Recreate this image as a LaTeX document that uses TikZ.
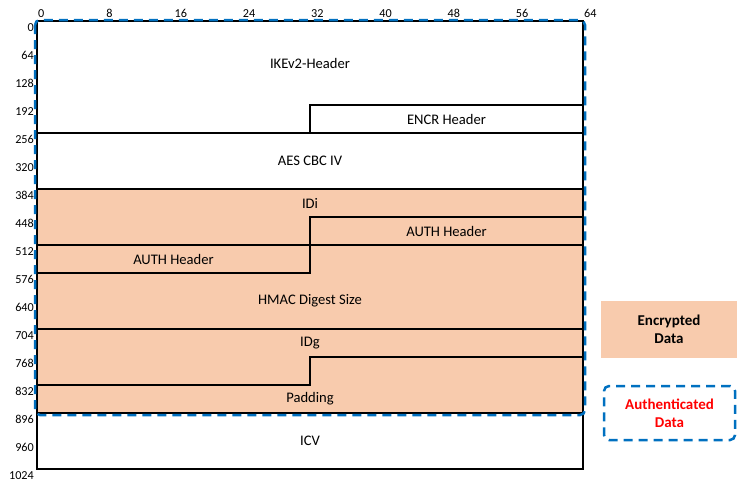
\documentclass[tikz,border=0pt]{standalone}
\usepackage{fontspec}
\setmainfont{Carlito}
\usetikzlibrary{positioning}
\definecolor{encfill}{RGB}{248,203,173}
\definecolor{authblue}{RGB}{0,112,192}
\definecolor{authred}{RGB}{255,0,0}

\begin{document}
\begin{tikzpicture}[x=8.53125pt, y=-0.4375pt,
  field/.style={draw=black, line width=1.4pt, line join=miter},
  enc/.style={field, fill=encfill},
  lbl/.style={font=\fontsize{14.6}{16}\selectfont, inner sep=0pt},
  bitnum/.style={font=\fontsize{12.2}{13}\selectfont, inner sep=0pt, anchor=south west},
  rownum/.style={font=\fontsize{12.2}{13}\selectfont, inner sep=0pt, anchor=east},
  authline/.style={draw=authblue, line width=2.5pt, dash pattern=on 9pt off 6pt, rounded corners=5pt}]
\useasboundingbox (-4.337,-48) rectangle (82.05,1053.71);

% Bit ruler (top) and offsets (left)
\foreach \b in {0,8,...,64}
  \node[bitnum] (bit\b) at ([xshift=1pt,yshift=3pt]\b,0) {\b};
\foreach \r in {0,64,...,1024}
  \node[rownum] (row\r) at ([xshift=-3pt,yshift=-6.8pt]0,\r) {\r};

% Plain fields
\draw[field] (0,0) -- (64,0) -- (64,192) -- (32,192) -- (32,256) -- (0,256) -- cycle;
\draw[field] (32,192) rectangle (64,256);
\draw[field] (0,256) rectangle (64,384);

% Encrypted fields
\draw[enc] (0,384) -- (64,384) -- (64,448) -- (32,448) -- (32,512) -- (0,512) -- cycle;
\draw[enc] (32,448) -- (64,448) -- (64,512) -- (32,512) -- (32,576) -- (0,576) -- (0,512) -- (32,512) -- cycle;
\draw[enc] (32,512) -- (64,512) -- (64,704) -- (0,704) -- (0,576) -- (32,576) -- cycle;
\draw[enc] (0,704) -- (64,704) -- (64,768) -- (32,768) -- (32,832) -- (0,832) -- cycle;
\draw[enc] (32,768) -- (64,768) -- (64,896) -- (0,896) -- (0,832) -- (32,832) -- cycle;

% Trailer
\draw[field] (0,896) rectangle (64,1024);

% Field names
\node[lbl] (ikehdr) at (32,96) {IKEv2-Header};
\node[lbl] (encrhdr) at (48,224) {ENCR Header};
\node[lbl] (aesiv) at (32,320) {AES CBC IV};
\node[lbl] (idi) at (32,416) {IDi};
\node[lbl] (authr) at (48,480) {AUTH Header};
\node[lbl] (authl) at (16,544) {AUTH Header};
\node[lbl] (hmac) at (32,640) {HMAC Digest Size};
\node[lbl] (idg) at (32,736) {IDg};
\node[lbl] (padding) at (32,864) {Padding};
\node[lbl] (icv) at (32,960) {ICV};

% Authenticated region
\draw[authline] ([xshift=-2pt,yshift=1pt]0,0) rectangle ([xshift=2pt,yshift=-2pt]64,896);

% Legend
\node[fill=encfill, minimum width=136pt, minimum height=57pt, align=center,
  font=\fontsize{15}{18}\selectfont\bfseries] (legenc) at (74.08,705.1) {Encrypted\\Data};
\node[authline, minimum width=131pt, minimum height=54pt, align=center, text=authred,
  font=\fontsize{15}{18}\selectfont\bfseries] (legauth) at (74.14,896) {Authenticated\\Data};

\end{tikzpicture}
\end{document}
